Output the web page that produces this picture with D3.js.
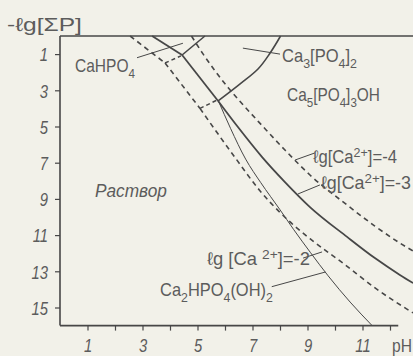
<!DOCTYPE html>
<html>
<head>
<meta charset="utf-8">
<script src="https://cdn.jsdelivr.net/npm/d3@7"></script>
<style>
  body { margin: 0; background: #f2f1e9; }
  svg { display: block; }
  text { font-family: "Liberation Sans", Arial, sans-serif; fill: #5c5c5c; }
</style>
</head>
<body>
<div id="chart"></div>
<script>
// axis ticks
var phTicks = [1, 2, 3, 4, 5, 6, 7, 8, 9, 10, 11, 12];
var phLabels = [1, 3, 5, 7, 9, 11];
var lgTicks = [1, 3, 5, 7, 9, 11, 13, 15];

// curves: [pH, -lg ΣP]
// lg[Ca2+] = -3 (solid, with corners)
var ca3Top = [[3.35, 0], [4.44, 1.05]];
var ca3Mid = [[4.44, 1.05], [5.75, 3.59]];
var ca3Low = [[5.75, 3.59], [6.47, 5.03], [7.35, 6.69], [8.18, 8.07], [9.09, 9.45],
              [10.44, 11.1], [11.45, 12.27], [12.36, 13.2], [12.84, 13.65]];
// lg[Ca2+] = -2 (dashed)
var ca2Top = [[2.55, 0], [3.82, 1.49]];
var ca2Mid = [[3.82, 1.49], [5.09, 4.0]];
var ca2Low = [[5.09, 4.0], [5.6, 5.1], [6.36, 6.7], [7.27, 8.55], [8.0, 9.75], [9.09, 11.2],
              [10.29, 12.55], [11.53, 14.0], [12.84, 15.3]];
var ca2Hook1 = [[3.82, 1.49], [4.4, 1.1]];
var ca2Hook2 = [[5.09, 4.0], [5.71, 3.54]];
// lg[Ca2+] = -4 (dashed)
var ca4Line = [[4.78, 0], [5.2, 0.99], [5.64, 1.93], [6.11, 2.85], [6.55, 3.62], [7.35, 4.95],
               [8.18, 6.3], [9.09, 7.68], [10.44, 9.34], [11.45, 10.5], [12.36, 11.44], [12.84, 11.88]];
// phase boundaries
var hpo4Edge = [[4.44, 1.05], [5.27, 0]];
var tcpEdge = [[5.75, 3.59], [6.55, 2.65], [7.2, 1.82], [7.64, 0.94], [8.02, 0]];
var ohEdge = [[5.75, 3.55], [6.2, 5.1], [6.75, 6.8], [7.3, 8.1], [8.0, 9.6], [8.5, 10.7],
              [9.1, 11.95], [9.75, 13.25], [10.55, 14.7], [11.35, 16.0]];

// leader lines
var leaders = [
  [[2.8, 1.2], [4.47, 0.4]],
  [[6.65, 0.67], [8.0, 1.0]],
  [[8.55, 6.85], [9.27, 6.46]],
  [[8.65, 8.73], [9.45, 8.23]],
  [[8.84, 12.27], [9.53, 11.93]],
  [[7.7, 13.85], [9.65, 13.04]]
];

var width = 413, height = 356;
var x = d3.scaleLinear().domain([0, 13]).range([60, 417.5]);
var y = d3.scaleLinear().domain([0, 16]).range([36, 325.6]);

var svg = d3.select('#chart').append('svg')
  .attr('width', width)
  .attr('height', height);

var ink = '#474747';

// frame
svg.append('line').attr('x1', x(0)).attr('x2', width).attr('y1', y(0)).attr('y2', y(0))
  .attr('stroke', ink).attr('stroke-width', 1.6);
svg.append('line').attr('x1', x(0)).attr('x2', x(0)).attr('y1', y(0)).attr('y2', y(16))
  .attr('stroke', ink).attr('stroke-width', 1.6);
svg.append('line').attr('x1', x(0)).attr('x2', x(12.3)).attr('y1', y(16)).attr('y2', y(16))
  .attr('stroke', ink).attr('stroke-width', 1.6);

var xAxis = svg.append('g')
  .attr('transform', 'translate(0,' + y(16) + ')')
  .call(d3.axisBottom(x).tickValues(phTicks).tickSize(5)
    .tickFormat(d => phLabels.indexOf(d) >= 0 ? d : ''));
xAxis.select('.domain').remove();
xAxis.selectAll('line').attr('stroke', ink).attr('stroke-width', 1.2);
xAxis.selectAll('text').attr('x', 0).attr('y', 0).attr('dy', 0)
  .attr('transform', 'translate(0,26) scale(0.78,1)')
  .style('font-size', '19px').style('font-style', 'italic').style('fill', '#5c5c5c');

var yAxis = svg.append('g')
  .attr('transform', 'translate(' + x(0) + ',0)')
  .call(d3.axisLeft(y).tickValues(lgTicks).tickSize(5));
yAxis.select('.domain').remove();
yAxis.selectAll('line').attr('stroke', ink).attr('stroke-width', 1.2);
yAxis.selectAll('text').attr('x', 0).attr('dy', '0.36em')
  .attr('transform', 'translate(-12,0) scale(0.78,1)')
  .style('font-size', '19px').style('font-style', 'italic').style('fill', '#5c5c5c');

var line = d3.line().x(d => x(d[0])).y(d => y(d[1])).curve(d3.curveMonotoneX);
var lineM = d3.line().x(d => x(d[0])).y(d => y(d[1])).curve(d3.curveMonotoneY);

function draw(data, w, dash, gen) {
  svg.append('path')
    .attr('d', (gen || line)(data))
    .attr('fill', 'none')
    .attr('stroke', ink)
    .attr('stroke-width', w)
    .attr('stroke-dasharray', dash || null);
}

draw(ca3Top, 1.8);
draw(ca3Mid, 1.8);
draw(ca3Low, 1.8);
draw(hpo4Edge, 1.6);
draw(tcpEdge, 1.6, null, lineM);
draw(ohEdge, 1.0);
draw(ca2Top, 1.6, '5,4');
draw(ca2Mid, 1.6, '5,4');
draw(ca2Low, 1.6, '5,4');
draw(ca2Hook1, 1.5, '4,3');
draw(ca2Hook2, 1.5, '4,3');
draw(ca4Line, 1.6, '5,4');

leaders.forEach(l => draw(l, 1.0));

// labels: pieces [text, 0 normal | -1 sub | 1 sup]; squeezed to width w
function label(px, py, w, fs, parts, italic) {
  var g = svg.append('g');
  var t = g.append('text')
    .style('font-size', fs + 'px')
    .style('font-style', italic ? 'italic' : 'normal');
  var cur = 0;
  parts.forEach(p => {
    var shift = p[1] * (-0.32 * fs);
    t.append('tspan')
      .attr('dy', shift - cur)
      .style('font-size', p[1] ? (fs * 0.75) + 'px' : fs + 'px')
      .text(p[0]);
    cur = shift;
  });
  var natural = t.node().getComputedTextLength();
  g.attr('transform', 'translate(' + px + ',' + py + ') scale(' + (w / natural) + ',1)');
}

label(7, 31, 75, 19, [['-ℓg[ΣP]', 0]]);
label(75, 72, 60, 18, [['CaHPO', 0], ['4', -1]]);
label(282, 62, 75, 18, [['Ca', 0], ['3', -1], ['[PO', 0], ['4', -1], [']', 0], ['2', -1]]);
label(287, 101, 93, 18, [['Ca', 0], ['5', -1], ['[PO', 0], ['4', -1], [']', 0], ['3', -1], ['OH', 0]]);
label(313, 163, 84, 18, [['ℓg[Ca', 0], ['2+', 1], [']=-4', 0]]);
label(321, 189, 90, 18, [['ℓg[Ca', 0], ['2+', 1], [']=-3', 0]]);
label(207, 265, 103, 18, [['ℓg [Ca ', 0], ['2+', 1], [']=-2', 0]]);
label(160, 296, 113, 18, [['Ca', 0], ['2', -1], ['HPO', 0], ['4', -1], ['(OH)', 0], ['2', -1]]);
label(95, 197, 72, 18, [['Раствор', 0]], true);
label(392, 352, 20, 18, [['pH', 0]]);
</script>
</body>
</html>
